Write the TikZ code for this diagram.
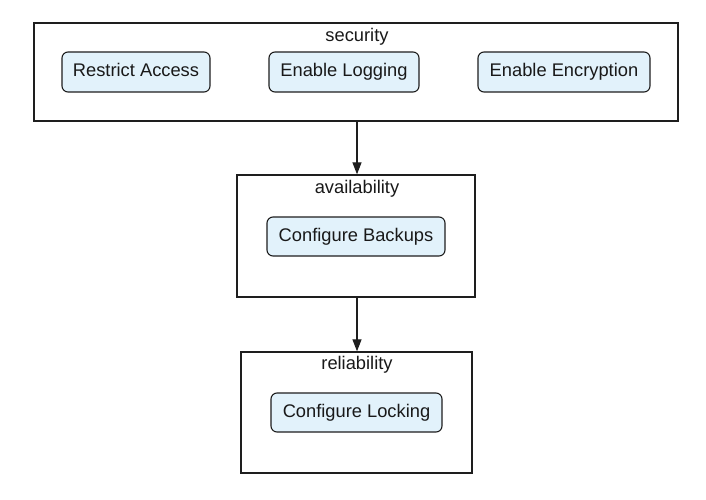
\documentclass[tikz,border=0pt]{standalone}
\usepackage{fontspec}
\setmainfont{Liberation Sans}
\usetikzlibrary{arrows.meta}
\definecolor{taskfill}{RGB}{226,242,251}
\definecolor{linec}{RGB}{30,30,30}
\begin{document}
\begin{tikzpicture}[x=1pt,y=-1pt,
  group/.style={draw=linec,line width=1.3pt,fill=white,inner sep=0pt,rectangle},
  task/.style={draw=linec,line width=1.1pt,fill=taskfill,rounded corners=6pt,inner sep=0pt,
    font=\fontsize{18.3}{20}\selectfont,text=black!90,text height=13.2pt,text depth=3.8pt},
  lbl/.style={font=\fontsize{18.3}{20}\selectfont,inner sep=0pt,text=black!90,
    text height=13.2pt,text depth=3.8pt},
  conn/.style={draw=linec,line width=1.2pt,-{Triangle[length=12pt,width=9pt]}}]
\useasboundingbox (0,0) rectangle (706,500);
% groups
\node[group,minimum width=644pt,minimum height=98pt] (sec) at (356,72) {};
\node[lbl] (secL) at (357,37) {security};
\node[group,minimum width=238pt,minimum height=122pt] (av) at (356,236) {};
\node[lbl] (avL) at (357,189) {availability};
\node[group,minimum width=231pt,minimum height=121pt] (re) at (356.5,412.5) {};
\node[lbl] (reL) at (357,365) {reliability};
% tasks
\node[task,minimum width=148pt,minimum height=40pt] (ra) at (136,72) {Restrict Access};
\node[task,minimum width=150pt,minimum height=40pt] (el) at (344,72) {Enable Logging};
\node[task,minimum width=172pt,minimum height=40pt] (ee) at (564,72) {Enable Encryption};
\node[task,minimum width=178pt,minimum height=39pt] (cb) at (356,236.5) {Configure Backups};
\node[task,minimum width=171pt,minimum height=39pt] (cl) at (356.5,412.5) {Configure Locking};
% connectors
\draw[conn] ([xshift=1pt]sec.south) -- ([xshift=1pt]av.north);
\draw[conn] ([xshift=1pt]av.south) -- ([xshift=0.5pt]re.north);
\end{tikzpicture}
\end{document}
